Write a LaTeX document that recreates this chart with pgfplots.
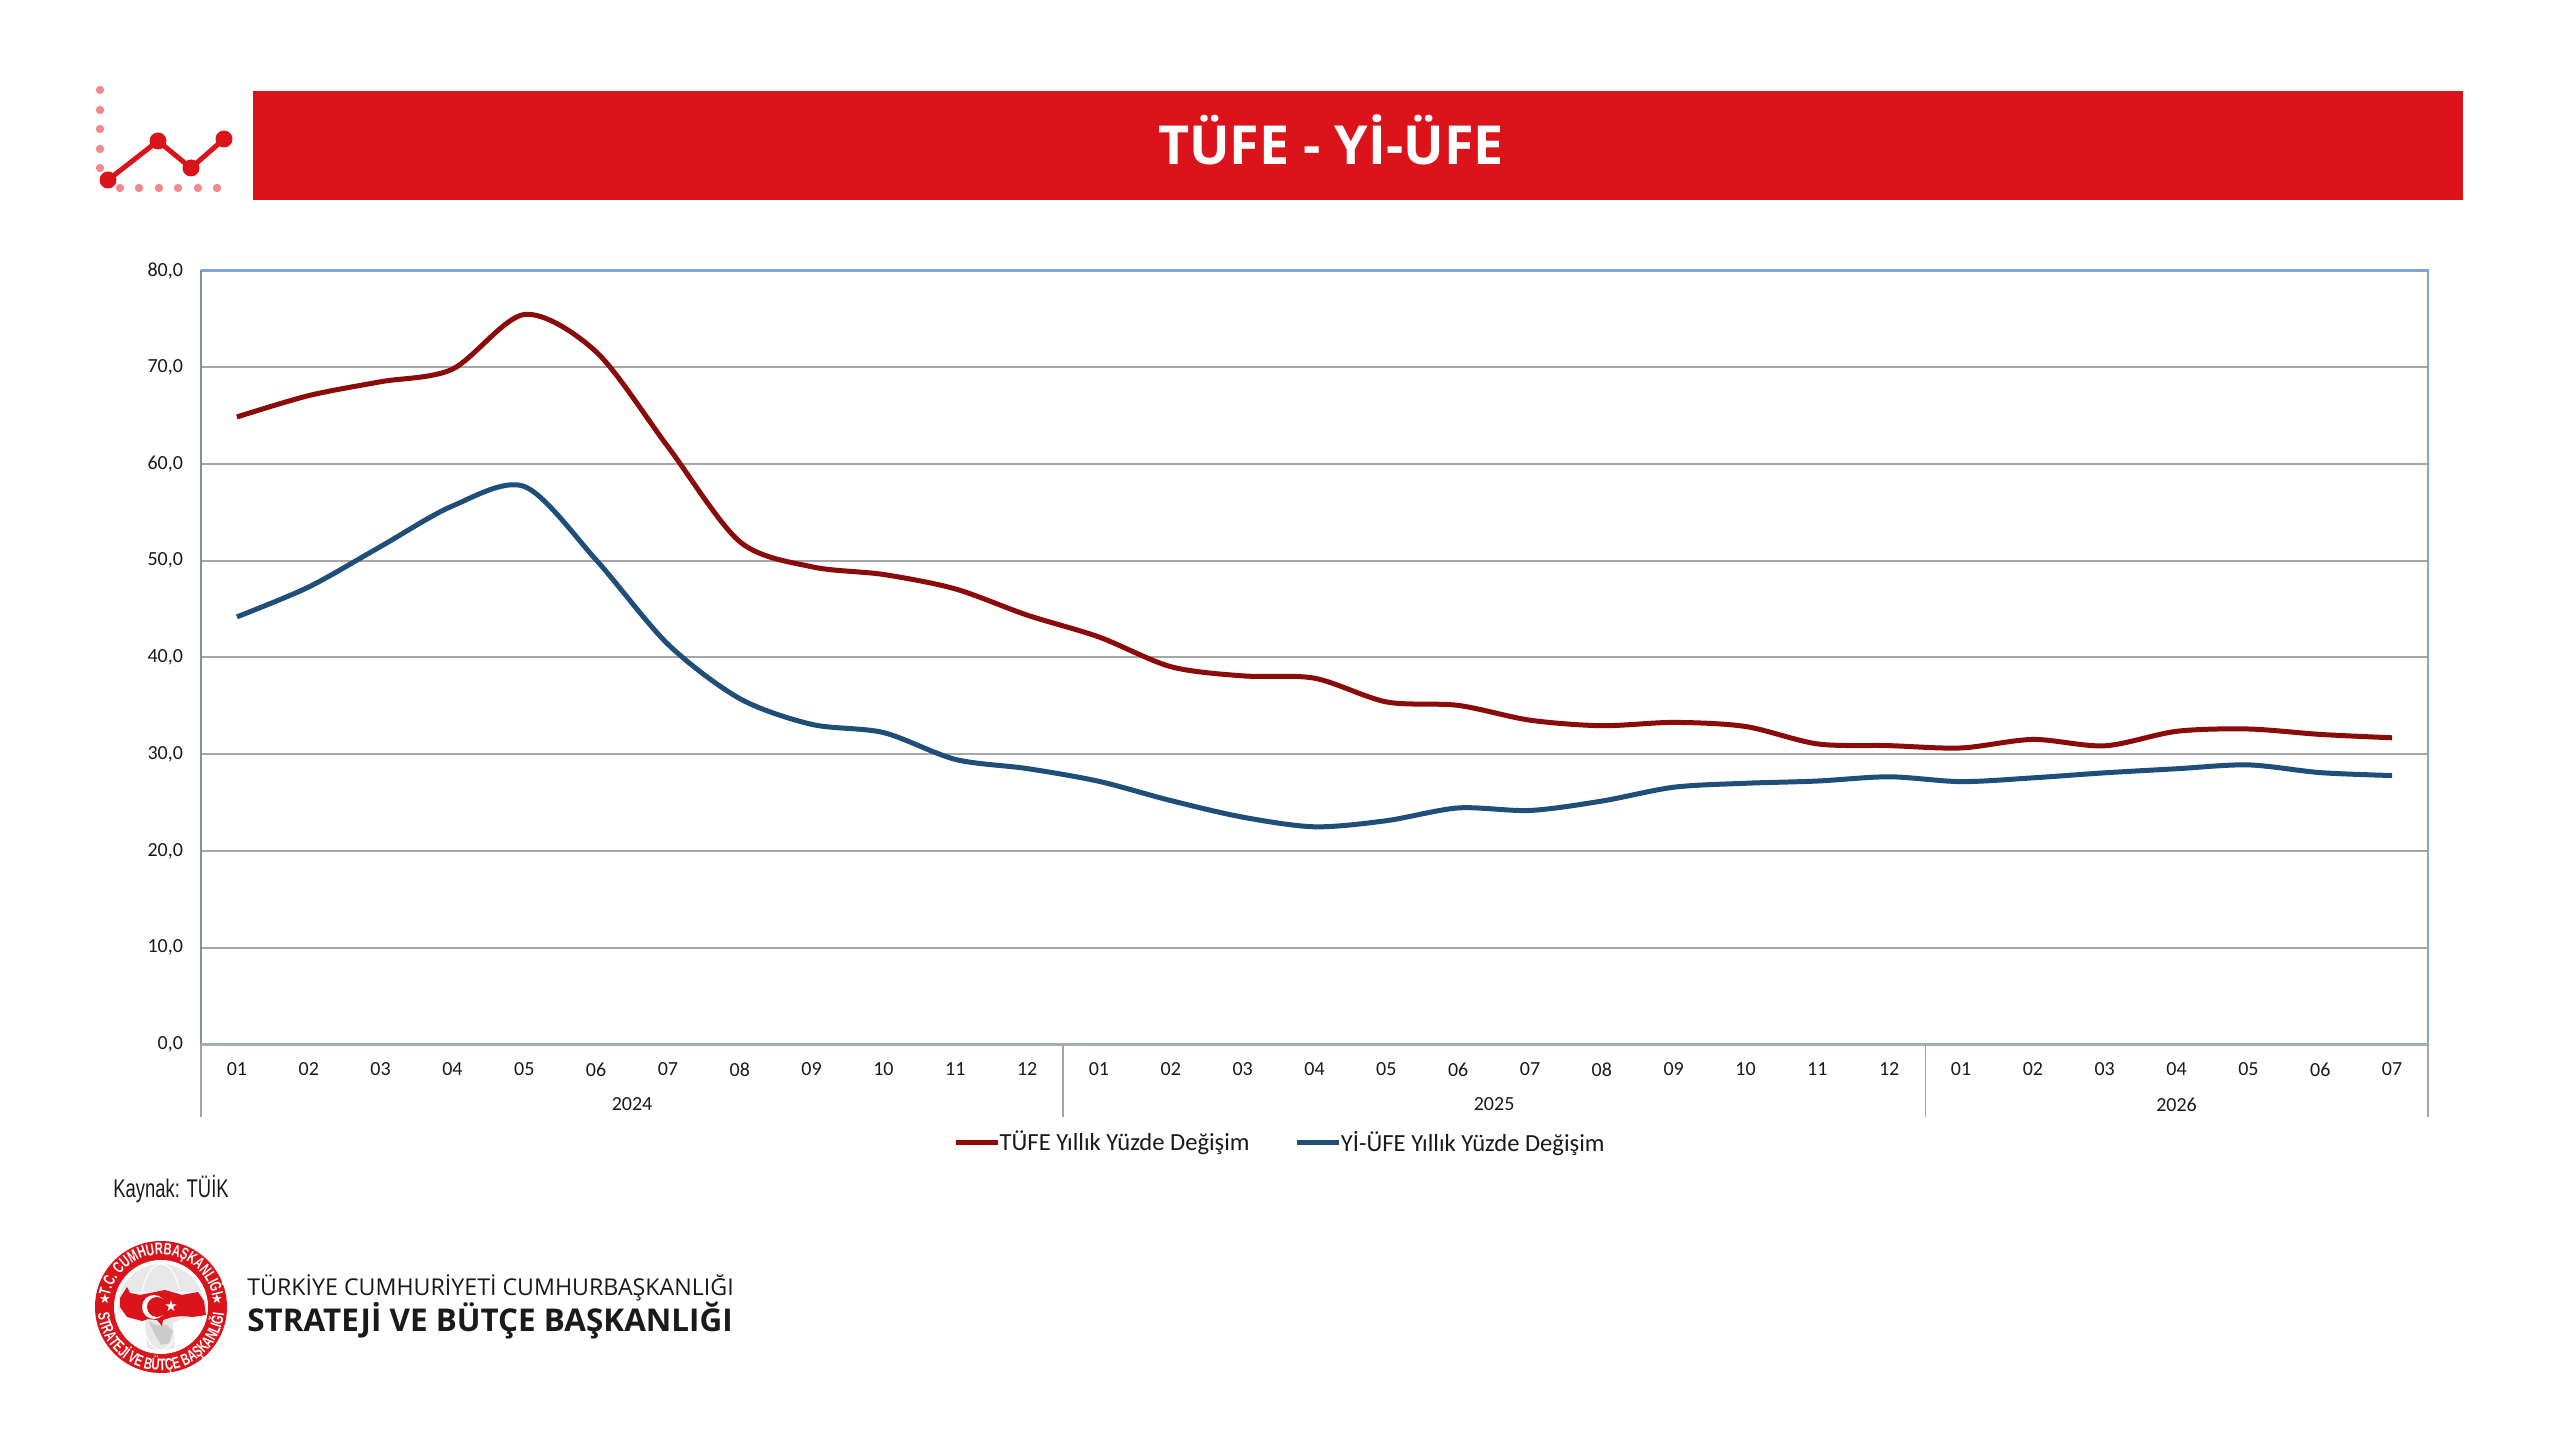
\documentclass[border=0pt]{standalone}
\usepackage{fontspec}
\usepackage{pgfplots}
\pgfplotsset{compat=1.18}
\usepackage{pgfplotstable}
\usetikzlibrary{decorations.text}
\setmainfont{Carlito}
\newfontfamily\titlefont{Open Sans}
\newfontfamily\srcfont{Liberation Sans}
\newfontfamily\symfont{DejaVu Sans}
\newfontfamily\emblemfont[FakeStretch=0.68]{Liberation Sans}
\definecolor{banner}{HTML}{DB131A}
\definecolor{dots}{HTML}{F08A90}
\definecolor{tufe}{HTML}{8B0A0A}
\definecolor{ufe}{HTML}{1F4E79}
\definecolor{gridc}{HTML}{A6A6A6}
\definecolor{topc}{HTML}{7FA6D6}
\definecolor{leftc}{HTML}{7F8FA9}
\definecolor{basec}{HTML}{A3AEBB}
\definecolor{txt}{HTML}{1A1A1A}

\pgfplotstableread{
x tufe ufe
0 64.86 44.20
1 67.07 47.29
2 68.50 51.47
3 69.80 55.66
4 75.45 57.68
5 71.60 50.09
6 61.78 41.37
7 51.97 35.75
8 49.38 33.09
9 48.58 32.24
10 47.09 29.47
11 44.38 28.52
12 42.12 27.20
13 39.05 25.21
14 38.10 23.50
15 37.86 22.50
16 35.41 23.13
17 35.05 24.45
18 33.52 24.19
19 32.95 25.16
20 33.29 26.59
21 32.87 27.00
22 31.07 27.23
23 30.89 27.67
24 30.65 27.17
25 31.53 27.56
26 30.87 28.08
27 32.37 28.50
28 32.61 28.90
29 32.05 28.10
30 31.70 27.80
}\datatable

\begin{document}
% 1 px of the reference = 0.5pt, y runs downward like in the image
\begin{tikzpicture}[x=0.5pt,y=-0.5pt,shift={(0,-1441)}]
\path[use as bounding box,fill=white] (0,0) rectangle (2560,1441);
\coordinate (plotorigin) at (201,1044.5);

% banner
\fill[banner] (253,91) rectangle (2463,200);
\node[white,font=\titlefont\bfseries\fontsize{26.9}{27}\selectfont] at (1331,139.5) {TÜFE - Yİ-ÜFE};

% small icon
\foreach \yy in {90,110,129,149,168} {\fill[dots] (100,\yy) circle[radius=4.2];}
\foreach \xx in {120,139,159,178,198,217} {\fill[dots] (\xx,188) circle[radius=4.2];}
\draw[banner,line width=2.5pt] (108,180) -- (158,141) -- (191,168) -- (224,139);
\foreach \xx/\yy in {108/180,158/141,191/168,224/139} {\fill[banner] (\xx,\yy) circle[radius=8.5];}

\begin{axis}[
  at={(plotorigin)}, anchor=south west,
  scale only axis, width=1113.5pt, height=387pt,
  xmin=-0.5, xmax=30.5, ymin=0, ymax=80,
  xtick=data,
  xticklabels={01,02,03,04,05,06,07,08,09,10,11,12,01,02,03,04,05,06,07,08,09,10,11,12,01,02,03,04,05,06,07},
  ytick={0,10,...,80},
  axis line style={draw=none},
  tick style={draw=none},
  ymajorgrids, grid style={gridc,line width=1pt},
  clip=false,
  /pgf/number format/assume math mode=true,
  /pgf/number format/.cd,fixed,fixed zerofill,precision=1,use comma,/tikz/.cd,
  tick label style={font=\fontsize{10}{10}\selectfont,text=txt},
  yticklabel style={xshift=-5.5pt},
  xticklabel style={yshift=-5.5pt},
  legend style={at={(0.485,-0.1266)},anchor=center,draw=none,fill=none,
    font=\fontsize{12.3}{12}\selectfont,text=txt,/tikz/every even column/.append style={column sep=20.5pt},
    inner sep=0pt},
  legend columns=2,
  legend image code/.code={\draw[#1,line width=2.5pt] (0pt,0pt) -- (21pt,0pt);},
]
\addplot[tufe,line width=2.5pt,smooth,no marks] table[x=x,y=tufe] {\datatable};
\addlegendentry{\hspace*{-2.4pt}TÜFE Yıllık Yüzde Değişim}
\addplot[ufe,line width=2.5pt,smooth,no marks] table[x=x,y=ufe] {\datatable};
\addlegendentry{\hspace*{-2.4pt}Yİ-ÜFE Yıllık Yüzde Değişim}

\draw[topc,line width=1.2pt] (axis cs:-0.5,80) -- (axis cs:30.5,80) -- (axis cs:30.5,0);
\draw[leftc,line width=1pt] (axis cs:-0.5,80) -- (axis cs:-0.5,0);
\draw[basec,line width=1.5pt] (axis cs:-0.5,0) -- (axis cs:30.5,0);
\draw[gridc,line width=0.6pt] (axis cs:-0.5,0) -- ++(0pt,-36.5pt);
\draw[gridc,line width=0.6pt] (axis cs:11.5,0) -- ++(0pt,-36.5pt);
\draw[gridc,line width=0.6pt] (axis cs:23.5,0) -- ++(0pt,-36.5pt);
\draw[gridc,line width=0.6pt] (axis cs:30.5,0) -- ++(0pt,-36.5pt);
\node[text=txt,font=\fontsize{10}{10}\selectfont,yshift=-30pt] at (axis cs:5.5,0) {2024};
\node[text=txt,font=\fontsize{10}{10}\selectfont,yshift=-30pt] at (axis cs:17.5,0) {2025};
\node[text=txt,font=\fontsize{10}{10}\selectfont,yshift=-30pt] at (axis cs:27,0) {2026};
\end{axis}

% source
\node[anchor=west,text=txt,xscale=0.72,inner sep=0pt,font=\srcfont\fontsize{12.8}{13}\selectfont] at (113,1189.5) {Kaynak: TÜİK};

% emblem
\begin{scope}[shift={(161,1307)}]
\fill[banner] (0,0) circle[radius=66];
\fill[white] (0,0) circle[radius=47];
\fill[black!9] (0,0) circle[radius=43];
\draw[white,line width=0.5pt] (0,-43) arc[x radius=20,y radius=43,start angle=270,end angle=90];
\draw[white,line width=0.5pt] (0,-43) arc[x radius=20,y radius=43,start angle=-90,end angle=90];
\draw[white,line width=0.5pt] (-41,-14) -- (41,-14);
\fill[white] (14,43) -- (12,16) -- (43,4) arc[start angle=5,end angle=70,radius=43] -- cycle;
\fill[white] (-14,41) -- (-16,14) -- (-43,4) arc[start angle=175,end angle=110,radius=43] -- cycle;
\fill[black!20] (-12,14) -- (-5,18) -- (6,18) -- (12,24) -- (8,36) -- (0,38) -- (-8,24) -- cycle;
\fill[banner] (-41,-9) -- (-34,-20) -- (-31,-14) -- (-21,-12) -- (-11,-14) -- (4,-17) -- (21,-12) -- (37,-15) -- (43,-6) -- (45,8) -- (32,10) -- (21,9) -- (11,10) -- (2,13) -- (1,19) -- (-4,13) -- (-13,12) -- (-19,14) -- (-34,10) -- (-41,0) -- cycle;
\fill[white] (-7,0) circle[radius=12];
\fill[banner] (-4,0) circle[radius=10];
\node[white,font=\symfont\fontsize{7.5}{8}\selectfont,inner sep=0pt] at (10,-1) {★};
\node[white,font=\symfont\fontsize{6.5}{7}\selectfont,inner sep=0pt] at (-56,-8) {★};
\node[white,font=\symfont\fontsize{6.5}{7}\selectfont,inner sep=0pt] at (56,-8) {★};
\path[decorate,decoration={text along path,text align=center,
  text={|\emblemfont\bfseries\fontsize{8.2}{8}\selectfont\color{white}|T.C. CUMHURBAŞKANLIĞI}}]
  (-51.7,-9.1) arc[radius=52.5,start angle=190,end angle=350];
\path[decorate,decoration={text along path,text align=center,
  text={|\emblemfont\bfseries\fontsize{8.2}{8}\selectfont\color{white}|STRATEJİ VE BÜTÇE BAŞKANLIĞI}}]
  (-63.5,0) arc[radius=63.5,start angle=180,end angle=0];
\end{scope}

% institution name
\node[anchor=west,inner sep=0pt,text=txt,font=\titlefont\fontsize{11.6}{12}\selectfont] at (247,1288) {TÜRKİYE CUMHURİYETİ CUMHURBAŞKANLIĞI};
\node[anchor=west,inner sep=0pt,text=txt,font=\titlefont\bfseries\fontsize{15.7}{16}\selectfont] at (247,1321) {STRATEJİ VE BÜTÇE BAŞKANLIĞI};
\end{tikzpicture}
\end{document}
